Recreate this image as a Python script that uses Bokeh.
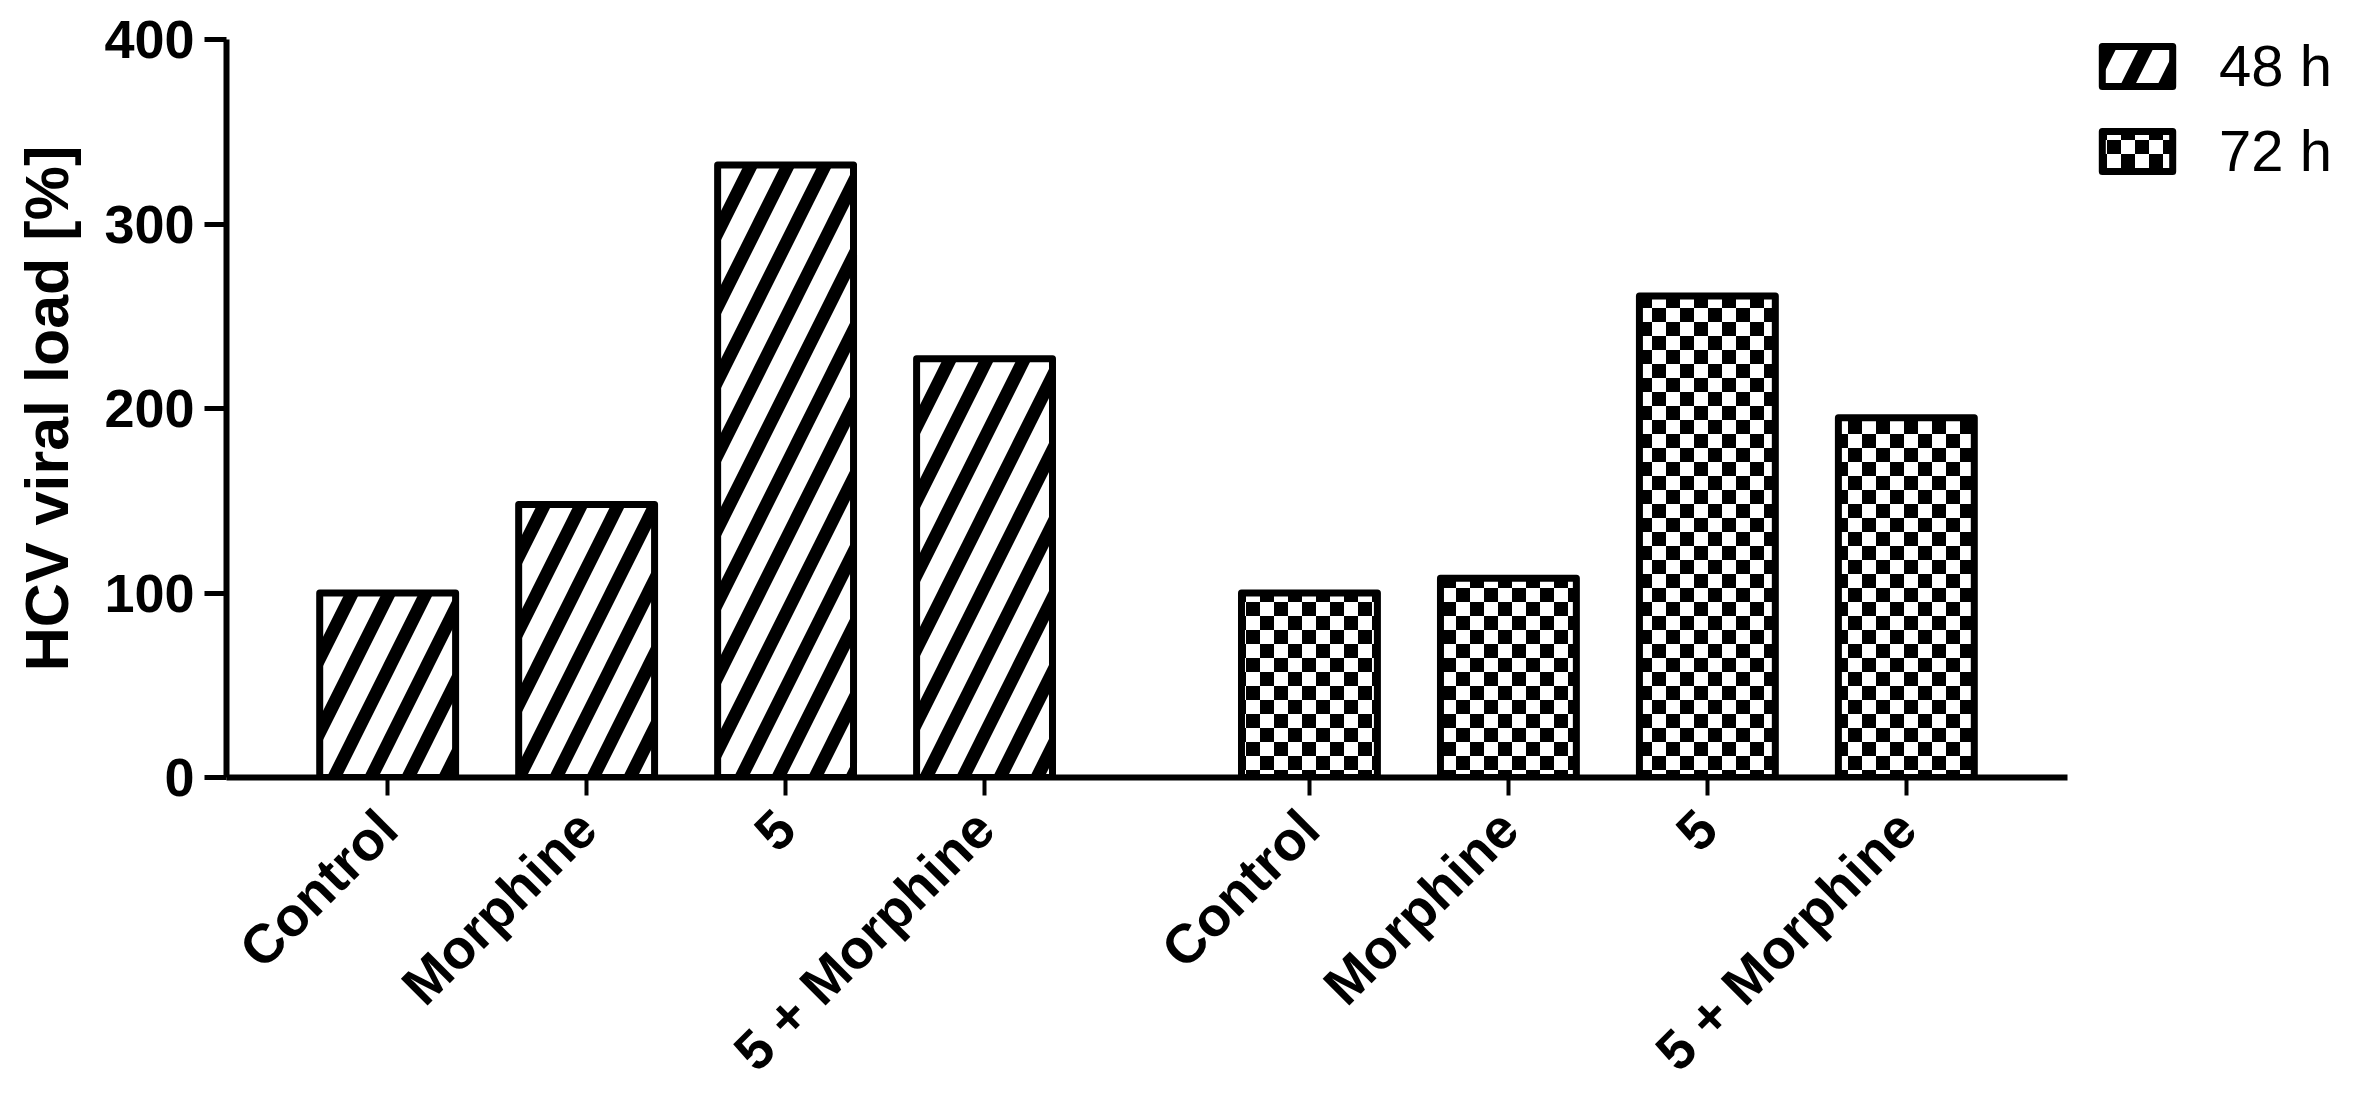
import math
from bokeh.plotting import figure
from bokeh.models import (FactorRange, Range1d, FixedTicker, Legend, LegendItem,
                          CanvasTexture, ColumnDataSource)
from bokeh.core.properties import value
from bokeh.embed import file_html
from bokeh.resources import INLINE

# ---- data ----
groups = ["48 h", "72 h"]
treatments = ["Control", "Morphine", "5", "5 + Morphine"]
load_48h = [100, 148, 332, 227]
load_72h = [100, 108, 261, 195]
y_ticks = [0, 100, 200, 300, 400]

FONT = "Liberation Sans"

factors = [(g, t) for g in groups for t in treatments]
x_range = FactorRange(*factors, factor_padding=0.0, group_padding=0.633,
                      range_padding=0.31, range_padding_units="absolute")

p = figure(x_range=x_range, y_range=Range1d(0, 400),
           frame_width=1841, frame_height=738,
           min_border_left=226, min_border_top=39, min_border_right=290,
           min_border_bottom=300,
           output_backend="svg", toolbar_location=None)
p.outline_line_color = None
p.xgrid.grid_line_color = None
p.ygrid.grid_line_color = None
p.background_fill_color = "white"
p.border_fill_color = "white"

# checkerboard tile (28 px, 14 px squares)
checker = CanvasTexture(code="""
const c = ctx.canvas;
c.width = 28;
c.height = 28;
ctx.fillStyle = "white";
ctx.fillRect(0, 0, 28, 28);
ctx.fillStyle = "black";
ctx.fillRect(0, 0, 14, 14);
ctx.fillRect(14, 14, 14, 14);
""")

src48 = ColumnDataSource(dict(x=[(groups[0], t) for t in treatments], top=load_48h))
src72 = ColumnDataSource(dict(x=[(groups[1], t) for t in treatments], top=load_72h))

r48 = p.vbar(x="x", top="top", source=src48, width=0.683, fill_color="white",
             line_color="black", line_width=7, line_join="round",
             hatch_pattern=value("/"), hatch_scale=74, hatch_weight=13,
             hatch_color="black")
r72 = p.vbar(x="x", top="top", source=src72, width=0.683, fill_color="white",
             line_color="black", line_width=7, line_join="round",
             hatch_pattern=value("checker"), hatch_extra={"checker": checker},
             hatch_scale=28, hatch_color="black")

# y axis
ya = p.yaxis[0]
ya.ticker = FixedTicker(ticks=y_ticks)
ya.minor_tick_line_color = None
ya.axis_line_width = 6
ya.major_tick_line_width = 5
ya.major_tick_out = 22
ya.major_tick_in = 0
ya.major_label_standoff = 10
ya.major_label_text_font = FONT
ya.major_label_text_font_style = "bold"
ya.major_label_text_font_size = "54px"
ya.major_label_text_color = "black"
ya.axis_label = "HCV viral load [%]"
ya.axis_label_text_font = FONT
ya.axis_label_text_font_style = "bold"
ya.axis_label_text_font_size = "61px"
ya.axis_label_text_color = "black"
ya.axis_label_standoff = 20

# x axis
xa = p.xaxis[0]
xa.axis_line_width = 6
xa.major_tick_line_width = 4
xa.major_tick_out = 18
xa.major_tick_in = 0
xa.minor_tick_line_color = None
xa.major_label_orientation = math.pi / 4
xa.major_label_standoff = 24
xa.major_label_text_font = FONT
xa.major_label_text_font_style = "bold"
xa.major_label_text_font_size = "55px"
xa.major_label_text_color = "black"
xa.group_text_font_size = "0px"
xa.group_text_color = None
xa.separator_line_color = None

legend = Legend(items=[LegendItem(label=groups[0], renderers=[r48]),
                       LegendItem(label=groups[1], renderers=[r72])],
                location=(26, 593), padding=0, margin=0, spacing=18,
                glyph_width=88, glyph_height=50, label_standoff=38,
                label_text_font=FONT, label_text_font_size="58px",
                label_text_color="black",
                border_line_color=None, background_fill_alpha=0)
p.add_layout(legend, "right")

open("out.html", "w").write(file_html(p, INLINE))
